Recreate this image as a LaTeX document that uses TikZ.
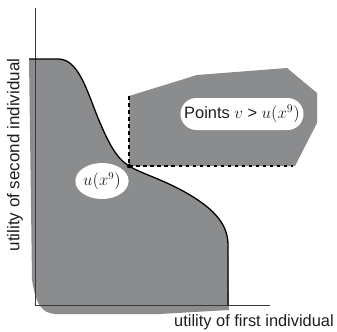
\documentclass[tikz,border=0pt]{standalone}
\usepackage{fontspec}
\setmainfont{Liberation Sans}
\usetikzlibrary{shapes.geometric}
\definecolor{setgray}{RGB}{138,140,142}
\definecolor{axisgray}{RGB}{55,55,55}
\definecolor{inkgray}{RGB}{30,30,30}

\begin{document}
\begin{tikzpicture}[x=0.03cm, y=-0.03cm]
    \useasboundingbox (0,0) rectangle (337,331);

    \coordinate (ux) at (129,166);
    \coordinate (vtop) at (129,96);
    \coordinate (vright) at (293,166);

    % feasible set, spilling a little past the axes
    \fill[setgray] (29,59) -- (58,59) .. controls (78,59) and (86,88) .. (98,118)
        .. controls (108,142) and (116,158) .. (ux)
        .. controls (142,174) and (165,180) .. (190,195)
        .. controls (215,210) and (228,225) .. (228,245)
        -- (229,310) -- (160,314) -- (55,314)
        .. controls (42,313) and (36,305) .. (32,280) -- cycle;

    % points above u(x9)
    \fill[setgray] (vtop) -- (197,75) -- (287,68) -- (317,93) -- (317,123)
        -- (295,166) -- (ux) -- cycle;

    \draw[axisgray, line width=0.8pt] (35,8) -- (35,305) -- (270,305);

    \draw[black, line width=1.1pt] (29,59) -- (58,59) .. controls (78,59) and (86,88) .. (98,118)
        .. controls (108,142) and (116,158) .. (ux)
        .. controls (142,174) and (165,180) .. (190,195)
        .. controls (215,210) and (228,225) .. (228,245)
        -- (228,305);

    \draw[black, dashed, line width=0.9pt] (vtop) -- (ux) -- (vright);
    \fill[black] (ux) circle (1.9pt);

    \node[ellipse, fill=white, inner sep=0pt, minimum width=1.2cm, minimum height=1.08cm,
        font=\fontsize{13.5}{15}\selectfont, text=inkgray] (ulabel) at (102,181) {$u(x^9)$};
    \node[fill=white, rounded corners=0.48cm, inner sep=0pt, minimum width=3.69cm,
        minimum height=0.96cm, font=\fontsize{14}{16}\selectfont, text=inkgray]
        (vlabel) at (242,114) {Points $v$ > $u(x^9)$};

    \node[font=\fontsize{14}{16}\selectfont, text=inkgray] (xlabel) at (254,322)
        {utility of first individual};
    \node[rotate=90, font=\fontsize{14.5}{16}\selectfont, text=inkgray] (ylabel) at (15,155)
        {utility of second individual};
\end{tikzpicture}
\end{document}
